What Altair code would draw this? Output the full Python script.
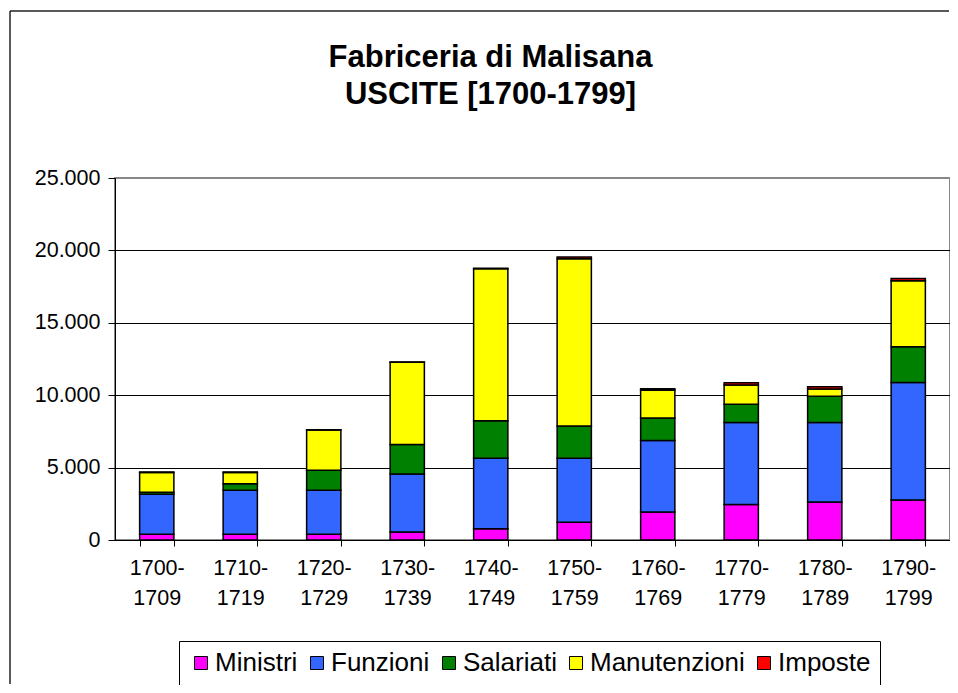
import altair as alt
import pandas as pd

decades = ["1700-1709", "1710-1719", "1720-1729", "1730-1739", "1740-1749",
           "1750-1759", "1760-1769", "1770-1779", "1780-1789", "1790-1799"]
series = ["Ministri", "Funzioni", "Salariati", "Manutenzioni", "Imposte"]
colors = ["#FF00FF", "#3366FF", "#008000", "#FFFF00", "#FF0000"]

ministri = [400, 400, 400, 550, 780, 1220, 1930, 2460, 2620, 2760]
funzioni = [2760, 3030, 3030, 4010, 4860, 4420, 4950, 5660, 5500, 8110]
salariati = [130, 460, 1380, 2040, 2600, 2230, 1550, 1250, 1800, 2480]
manutenzioni = [1380, 780, 2790, 5670, 10500, 11560, 1910, 1330, 510, 4560]
imposte = [20, 20, 20, 20, 20, 120, 100, 160, 150, 150]

values = [ministri, funzioni, salariati, manutenzioni, imposte]
rows = []
for si, (name, vals) in enumerate(zip(series, values)):
    for d, v in zip(decades, vals):
        rows.append({"decade": d, "serie": name, "valore": v, "ordine": si})
df = pd.DataFrame(rows)

FONT = "Liberation Sans"

one = alt.Data(values=[{}])
frame_top = alt.Chart(one).mark_rule(color="#222222", strokeWidth=1.5, clip=False).encode(
    x=alt.value(-105), x2=alt.value(834), y=alt.value(-167), y2=alt.value(-167)
)
frame_left = alt.Chart(one).mark_rule(color="#222222", strokeWidth=1.5, clip=False).encode(
    x=alt.value(-105), x2=alt.value(-105), y=alt.value(-167), y2=alt.value(506)
)

bars = alt.Chart(df).mark_bar(stroke="black", strokeWidth=1.5).encode(
    x=alt.X("decade:N", sort=decades, title=None,
            scale=alt.Scale(paddingInner=0.59, paddingOuter=0.295),
            axis=alt.Axis(labelAngle=0, labelExpr="[substring(datum.label,0,5), substring(datum.label,5)]",
                          labelLineHeight=30, labelFontSize=21.5, labelFont=FONT, labelColor="black",
                          labelPadding=11, tickBand="extent", tickSize=6, tickColor="black",
                          domainColor="black", grid=False)),
    y=alt.Y("valore:Q", stack="zero", title=None,
            scale=alt.Scale(domain=[0, 25000], nice=False),
            axis=alt.Axis(values=[0, 5000, 10000, 15000, 20000, 25000],
                          labelExpr="replace(format(datum.value, ','), ',', '.')",
                          labelFontSize=21.5, labelFont=FONT, labelColor="black", labelPadding=8,
                          tickSize=7, tickColor="black", domainColor="black",
                          grid=True, gridColor="black", gridWidth=1,
                          gridOpacity=alt.condition("datum.value == 25000", alt.value(0), alt.value(1)))),
    color=alt.Color("serie:N", scale=alt.Scale(domain=series, range=colors),
                    legend=alt.Legend(title=None, orient="none", legendX=64, legendY=463,
                                      direction="horizontal", columns=5,
                                      symbolType="square", symbolSize=169,
                                      symbolStrokeColor="black", symbolStrokeWidth=1,
                                      labelFontSize=26, labelFont=FONT, labelColor="black",
                                      labelOffset=1, columnPadding=6,
                                      strokeColor="black", fillColor="white", padding=9)),
    order=alt.Order("ordine:Q"),
)

chart = alt.layer(frame_top, frame_left, bars).properties(
    width=835, height=362,
    autosize=alt.AutoSizeParams(type="none"),
    padding={"left": 107, "top": 170, "right": 0, "bottom": 145},
    title=alt.TitleParams(
        text=["Fabriceria di Malisana", "USCITE [1700-1799]"],
        font=FONT, fontSize=31, fontWeight="bold", color="black",
        lineHeight=37, anchor="middle", dx=-42, offset=-101,
    ),
).configure_view(stroke="#888888", strokeWidth=2)

chart.save("out.html", embed_options={"renderer": "svg", "actions": False})
